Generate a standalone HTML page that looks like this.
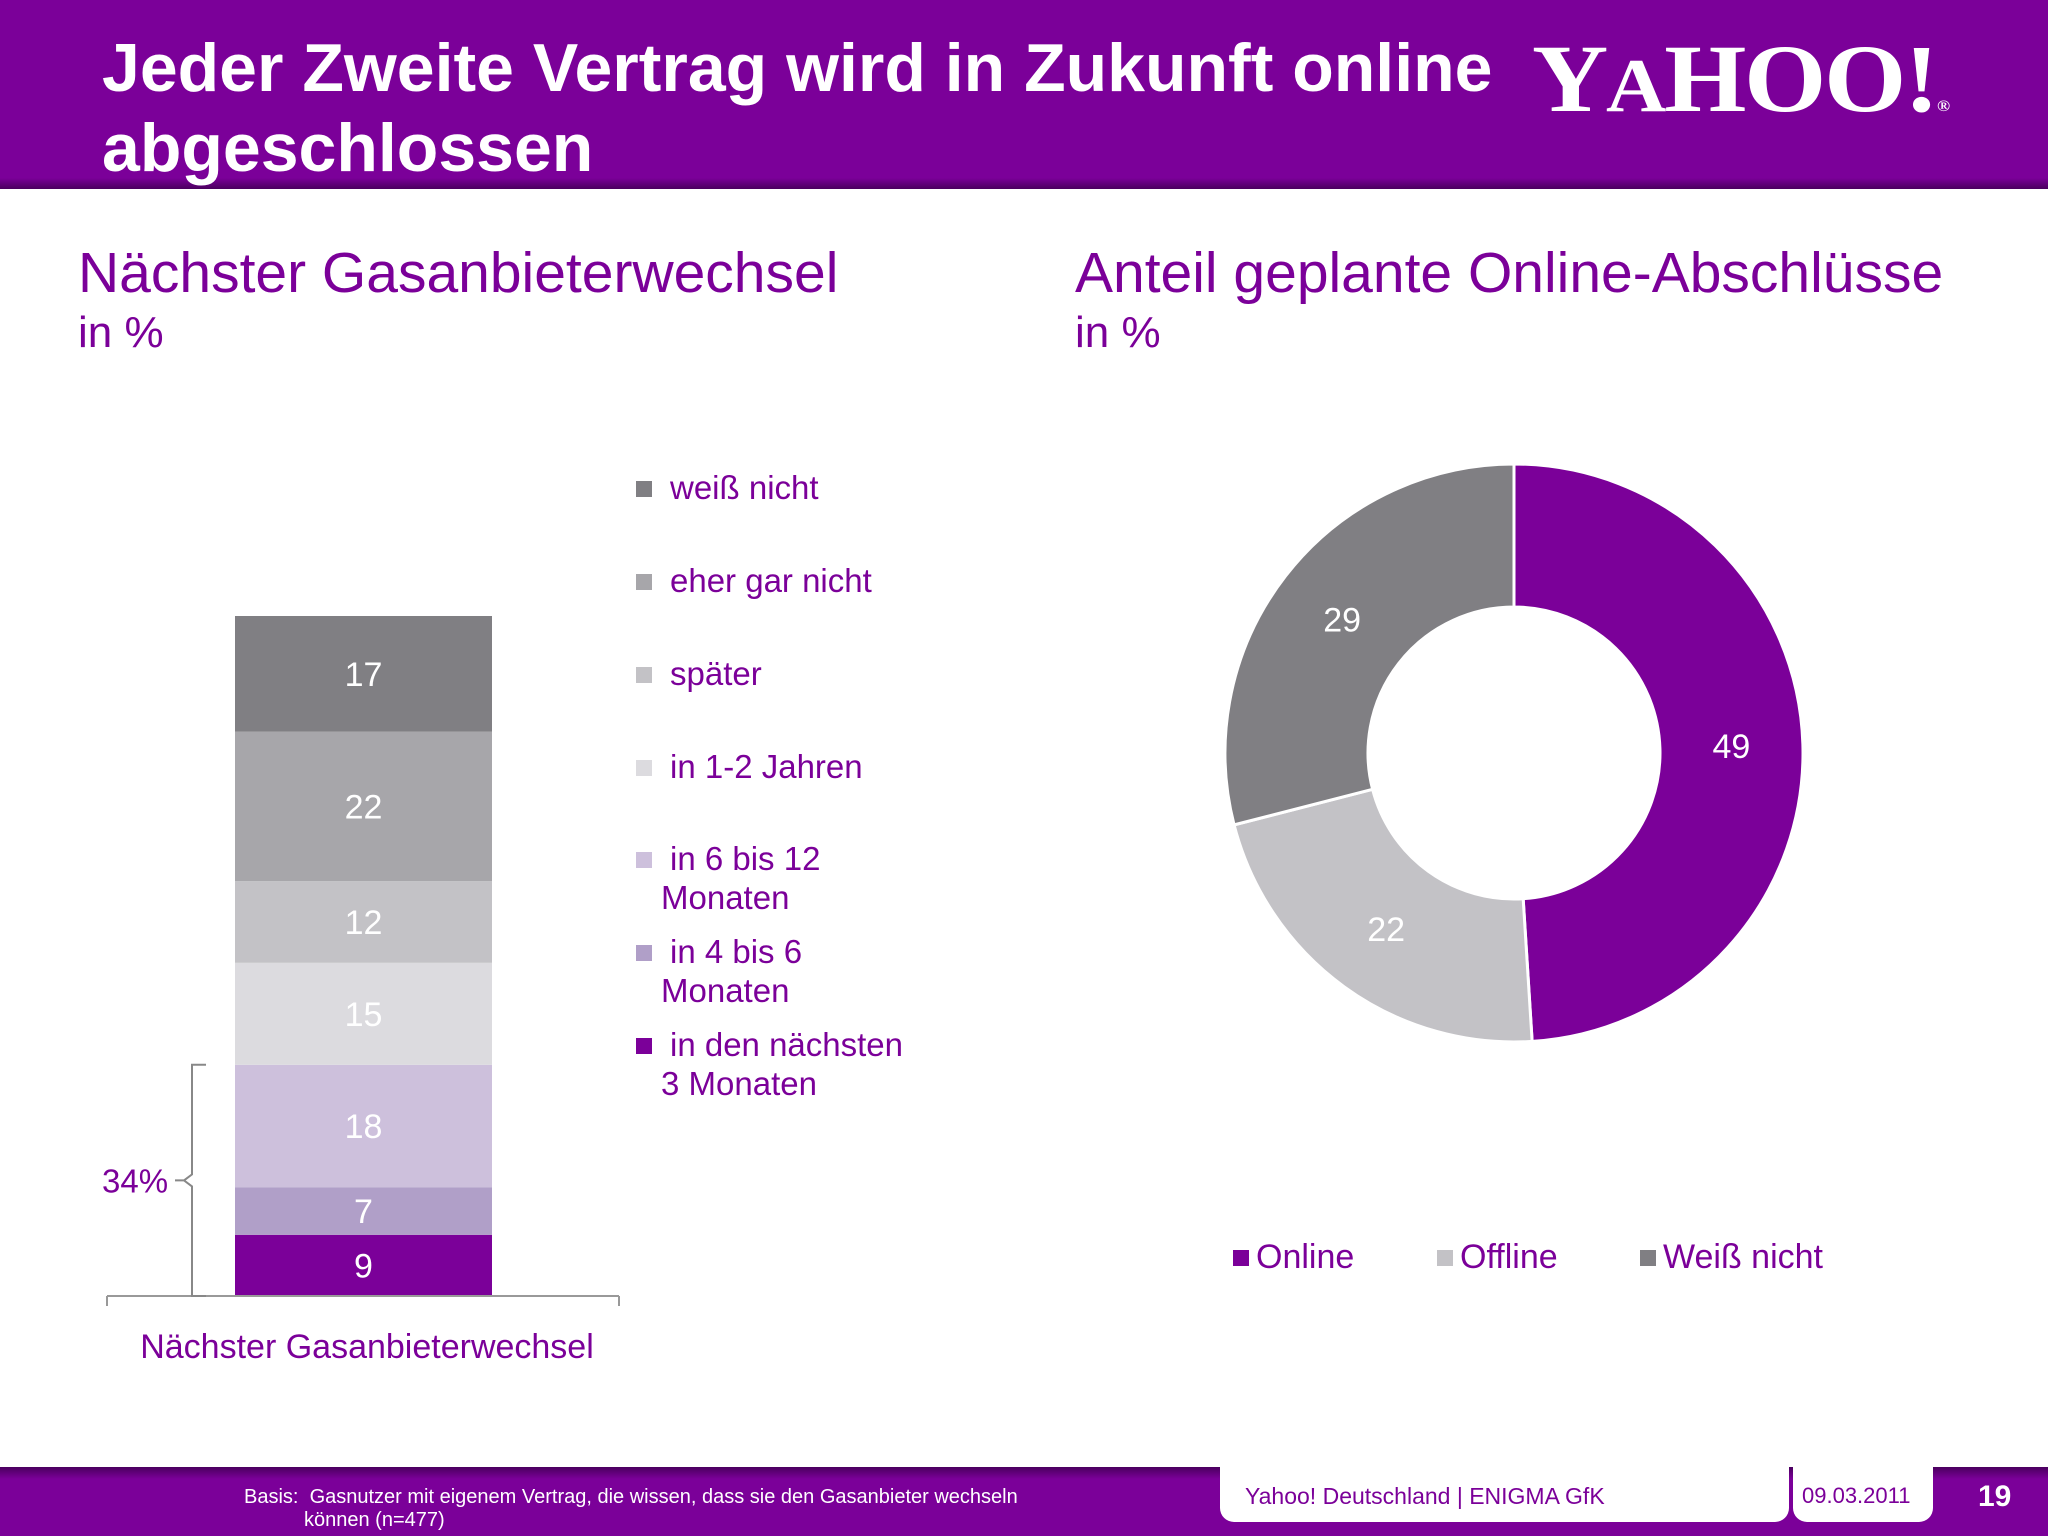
<!DOCTYPE html>
<html><head><meta charset="utf-8"><style>
body{margin:0;width:2048px;height:1536px;overflow:hidden;background:#fff;font-family:"Liberation Sans",sans-serif;position:relative}
.a{position:absolute;white-space:nowrap}
</style></head><body>
<div class="a" style="left:0;top:0;width:2048px;height:189px;background:linear-gradient(#7b0099 0,#7b0099 178px,#4a005e 189px)"></div>
<div class="a" style="left:102px;top:28px;color:#fff;font-weight:bold;font-size:68px;line-height:80px">Jeder Zweite Vertrag wird in Zukunft online<br>abgeschlossen</div>
<div class="a" style="left:1532px;top:24px;color:#fff;font-family:'Liberation Serif',serif;font-weight:bold;font-size:96px;letter-spacing:-2px;line-height:110px;transform:scaleX(1.1);transform-origin:left">Y<span style="font-size:76px">A</span>HOO!<span style="font-size:16px">®</span></div>

<div class="a" style="left:78px;top:240px;color:#7b0099;font-size:57px">Nächster Gasanbieterwechsel</div>
<div class="a" style="left:78px;top:308px;color:#7b0099;font-size:44px">in %</div>
<div class="a" style="left:1075px;top:240px;color:#7b0099;font-size:57px">Anteil geplante Online-Abschlüsse</div>
<div class="a" style="left:1075px;top:308px;color:#7b0099;font-size:44px">in %</div>

<svg class="a" style="left:0;top:0" width="2048" height="1536">
<g id="bar"></g>
<g id="donut"></g>
<line x1="107" y1="1296" x2="619" y2="1296" stroke="#999" stroke-width="2"/>
<line x1="107" y1="1296" x2="107" y2="1306" stroke="#999" stroke-width="2"/>
<line x1="619" y1="1296" x2="619" y2="1306" stroke="#999" stroke-width="2"/>
<path id="brk" fill="none" stroke="#888" stroke-width="2"/>
<text x="367" y="1358" font-size="34" fill="#7b0099" text-anchor="middle">Nächster Gasanbieterwechsel</text>
<text id="brkl" x="102" y="1195" font-size="33" fill="#7b0099">34%</text>
</svg>

<div id="legend"></div>

<div class="a" style="left:0;top:1467px;width:2048px;height:69px;background:linear-gradient(#4a005e 0,#7b0099 12px)"></div>
<div class="a" style="left:1220px;top:1467px;width:569px;height:55px;background:#fff;border-radius:0 0 14px 14px"></div>
<div class="a" style="left:1793px;top:1467px;width:140px;height:55px;background:#fff;border-radius:0 0 14px 14px"></div>
<div class="a" style="left:244px;top:1486px;color:#fff;font-size:20px;line-height:23px">Basis:&nbsp; Gasnutzer mit eigenem Vertrag, die wissen, dass sie den Gasanbieter wechseln<br><span style="padding-left:60px">können (n=477)</span></div>
<div class="a" style="left:1245px;top:1483px;color:#7b0099;font-size:23px">Yahoo! Deutschland | ENIGMA GfK</div>
<div class="a" style="left:1802px;top:1483px;color:#7b0099;font-size:22px">09.03.2011</div>
<div class="a" style="left:1978px;top:1480px;color:#fff;font-size:30px;font-weight:bold">19</div>

<script>
const barCats=["in den nächsten 3 Monaten","in 4 bis 6 Monaten","in 6 bis 12 Monaten","in 1-2 Jahren","später","eher gar nicht","weiß nicht"];
const barVals=[9,7,18,15,12,22,17];
const barColors=["#7b0099","#b09fc8","#cdc0dc","#dcdbdf","#c3c2c6","#a7a6aa","#807f83"];
const pieCats=["Online","Offline","Weiß nicht"];
const pieVals=[49,22,29];
const pieColors=["#7b0099","#c3c2c6","#807f83"];
const NS="http://www.w3.org/2000/svg";
const y0=1296,unit=6.8,bx=235,bw=257;
const yS=v=>y0-v*unit;
const bar=document.getElementById('bar');
let cum=0;
barVals.forEach((v,i)=>{
 const r=document.createElementNS(NS,'rect');
 
 
 r.setAttribute('x',bx);r.setAttribute('y',yS(cum+v));r.setAttribute('width',bw);r.setAttribute('height',v*unit);r.setAttribute('fill',barColors[i]);
 bar.appendChild(r);
 const t=document.createElementNS(NS,'text');
 
 
 t.setAttribute('x',bx+bw/2);t.setAttribute('y',yS(cum+v/2)+12);t.setAttribute('fill','#fff');t.setAttribute('font-size','34');t.setAttribute('text-anchor','middle');
 t.textContent=v;bar.appendChild(t);
 cum+=v;
});
const bt=yS(barVals[0]+barVals[1]+barVals[2]),mid=(bt+y0)/2;
document.getElementById('brk').setAttribute('d',`M206 ${bt} H192 V${mid-6} L184 ${mid} L192 ${mid+6} V${y0} H206 M184 ${mid} H175`);
document.getElementById('brkl').setAttribute('y',mid+12);
const legTops=[488,581,674,767,859,952,1045];
const lg=document.getElementById('legend');
const lines=[["weiß nicht"],["eher gar nicht"],["später"],["in 1-2 Jahren"],["in 6 bis 12","Monaten"],["in 4 bis 6","Monaten"],["in den nächsten","3 Monaten"]];
for(let k=0;k<7;k++){
 const i=6-k;
 const d=document.createElement('div');
 
 
 d.className='a';d.style.left='636px';d.style.top=(legTops[k]-20)+'px';d.style.color='#7b0099';d.style.fontSize='33px';d.style.lineHeight='39px';
 d.innerHTML=`<span style="display:inline-block;width:16px;height:16px;background:${barColors[i]};margin-right:18px;vertical-align:2px"></span>${lines[k][0]}`+(lines[k][1]?`<br><span style="padding-left:25px">${lines[k][1]}</span>`:'');
 lg.appendChild(d);
}
const cx=1514,cy=753,R=289,r0=146;
const tot=pieVals.reduce((a,b)=>a+b,0);
const dn=document.getElementById('donut');
let a=0;
const P=(rad,ang)=>[cx+rad*Math.sin(ang),cy-rad*Math.cos(ang)];
pieVals.forEach((v,i)=>{
 const a1=a+v/tot*2*Math.PI,lg2=(a1-a)>Math.PI?1:0;
 const [x1,y1]=P(R,a),[x2,y2]=P(R,a1),[x3,y3]=P(r0,a1),[x4,y4]=P(r0,a);
 const p=document.createElementNS(NS,'path');
 
 
 p.setAttribute('d',`M${x1} ${y1}A${R} ${R} 0 ${lg2} 1 ${x2} ${y2}L${x3} ${y3}A${r0} ${r0} 0 ${lg2} 0 ${x4} ${y4}Z`);
 p.setAttribute('fill',pieColors[i]);p.setAttribute('stroke','#fff');p.setAttribute('stroke-width','3');
 dn.appendChild(p);
 const [lx,ly]=P((R+r0)/2,(a+a1)/2);
 const t=document.createElementNS(NS,'text');
 
 
 t.setAttribute('x',lx);t.setAttribute('y',ly+12);t.setAttribute('fill','#fff');t.setAttribute('font-size','34');t.setAttribute('text-anchor','middle');
 t.textContent=v;dn.appendChild(t);
 a=a1;
});
const pl=[1233,1437,1640];
pieCats.forEach((c,i)=>{
 const d=document.createElement('div');
 
 
 d.className='a';d.style.left=pl[i]+'px';d.style.top='1238px';d.style.color='#7b0099';d.style.fontSize='34px';
 d.innerHTML=`<span style="display:inline-block;width:16px;height:16px;background:${pieColors[i]};margin-right:7px;vertical-align:2px"></span>${c}`;
 document.body.appendChild(d);
});
</script>
</body></html>
